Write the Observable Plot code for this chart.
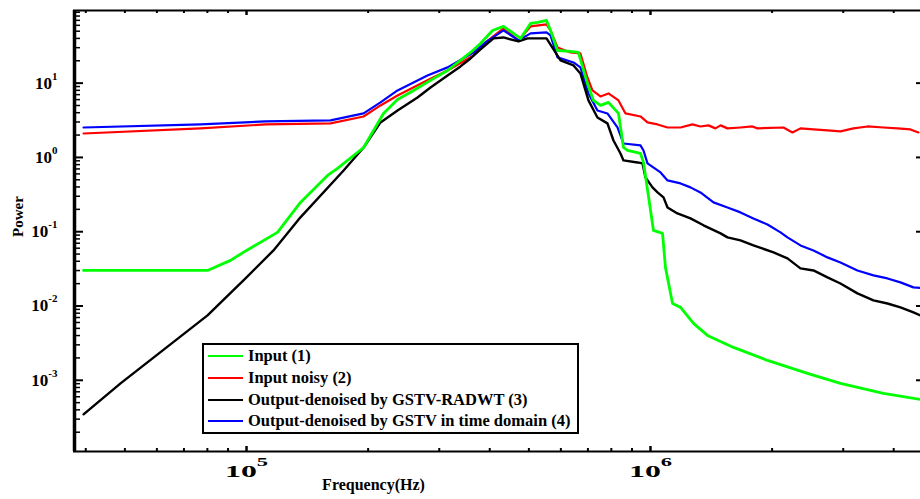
<!DOCTYPE html>
<html><head><meta charset="utf-8">
<script src="https://cdn.jsdelivr.net/npm/d3@7"></script>
<script src="https://cdn.jsdelivr.net/npm/@observablehq/plot@0.6"></script>
<style>
html,body{margin:0;padding:0;background:#fff;}
#wrap{position:relative;width:920px;height:499px;overflow:hidden;}
#legend{position:absolute;left:202px;top:343px;width:373px;height:87px;border:2px solid #000;background:#fff;font-family:"Liberation Serif",serif;font-weight:bold;font-size:16.5px;color:#000;}
.row{position:absolute;left:0;height:22px;display:flex;align-items:center;white-space:nowrap;}
.sw{display:inline-block;width:35px;height:2px;margin-left:4px;margin-right:5px;}
</style></head><body><div id="wrap"></div>
<script>
const seriesNames = ["Input (1)", "Input noisy (2)", "Output-denoised by GSTV-RADWT (3)", "Output-denoised by GSTV in time domain (4)"];
const seriesColors = ["#00ff00", "#ff0000", "#000000", "#0000ff"];
const xLabel = "Frequency(Hz)";
const yLabel = "Power";
const xTickValues = [1e5, 1e6];
const yTickValues = [1e-3, 1e-2, 1e-1, 1, 10];

// Input (1)
const inputF = [39500, 80070, 91290, 100000, 119300, 136000, 158700, 168000, 194900, 218300, 236500, 259100, 285400, 314500, 358500, 379500, 406400, 432600, 458000, 476700, 504700, 525200, 552900, 565600, 588700, 633900, 663100, 698100, 722400, 751800, 787000, 833300, 857400, 877200, 944600, 961000, 988600, 1017000, 1071000, 1089000, 1134000, 1187000, 1278000, 1384000, 1605000, 1948000, 2447000, 2953000, 3773000, 4659000];
const inputP = [0.0301, 0.0301, 0.0411, 0.0560, 0.0979, 0.248, 0.572, 0.711, 1.36, 3.91, 6.03, 7.97, 10.9, 14.8, 25.9, 34.2, 51.2, 58.0, 46.7, 40.0, 63.6, 65.6, 69.8, 51.2, 27.5, 26.7, 25.9, 9.91, 5.85, 5.01, 5.50, 3.91, 1.36, 1.24, 1.13, 0.85, 0.30, 0.104, 0.0949, 0.0331, 0.0108, 0.00958, 0.00583, 0.00402, 0.00277, 0.00185, 0.00124, 0.000908, 0.000666, 0.000553];

// Input noisy (2)
const noisyF = [39500, 76920, 111400, 161400, 194900, 214600, 236500, 280500, 314500, 364700, 390500, 432600, 471300, 504700, 552900, 565600, 588700, 633900, 670700, 698100, 718300, 751800, 787000, 833300, 867200, 944600, 983000, 1041000, 1102000, 1187000, 1270000, 1329000, 1392000, 1448000, 1491000, 1551000, 1670000, 1788000, 1840000, 2134000, 2246000, 2351000, 2532000, 2742000, 2953000, 3180000, 3444000, 3773000, 4087000, 4400000, 4605000];
const noisyP = [2.10, 2.46, 2.78, 2.87, 3.56, 5.01, 6.83, 10.9, 14.8, 23.6, 35.3, 54.5, 37.6, 58.0, 61.7, 51.2, 30.2, 25.9, 25.1, 11.9, 7.97, 6.62, 7.27, 5.85, 3.91, 3.56, 2.96, 2.78, 2.53, 2.53, 2.78, 2.61, 2.70, 2.46, 2.70, 2.46, 2.53, 2.61, 2.46, 2.53, 2.17, 2.46, 2.38, 2.31, 2.24, 2.46, 2.61, 2.53, 2.46, 2.38, 2.17];

// Output-denoised by GSTV-RADWT (3)
const radwtF = [39500, 48770, 80070, 100000, 116600, 136000, 173900, 194900, 214600, 236500, 265000, 285400, 314500, 338600, 358500, 379500, 408700, 432600, 471300, 496100, 552900, 598800, 644800, 670700, 702200, 739100, 782400, 809800, 842800, 857400, 928600, 955500, 971900, 1011500, 1041000, 1077000, 1102000, 1166000, 1256000, 1353000, 1491000, 1551000, 1670000, 1798000, 2016000, 2183000, 2351000, 2532000, 2742000, 2953000, 3253000, 3564000, 3860000, 4157000, 4476000, 4659000];
const radwtP = [0.000348, 0.000908, 0.00747, 0.0243, 0.0560, 0.156, 0.668, 1.36, 2.96, 4.29, 6.42, 8.75, 12.7, 16.8, 21.5, 28.4, 40.0, 41.2, 36.4, 40.0, 40.0, 20.2, 17.3, 13.5, 5.85, 3.45, 2.87, 1.69, 1.13, 0.911, 0.856, 0.830, 0.538, 0.395, 0.338, 0.290, 0.212, 0.176, 0.151, 0.122, 0.0949, 0.0838, 0.0764, 0.0654, 0.0527, 0.0437, 0.0321, 0.0301, 0.0243, 0.0201, 0.0148, 0.0119, 0.0108, 0.00958, 0.00820, 0.00747];

// Output-denoised by GSTV in time domain (4)
const gstvF = [39500, 76920, 111400, 161400, 194900, 214600, 236500, 280500, 314500, 364700, 390500, 432600, 471300, 504700, 552900, 565600, 588700, 644800, 670700, 702200, 739100, 782400, 828500, 857400, 944600, 961000, 983000, 1059000, 1102000, 1187000, 1256000, 1329000, 1432000, 1551000, 1670000, 1798000, 1948000, 2098000, 2183000, 2351000, 2532000, 2742000, 2953000, 3253000, 3564000, 3860000, 4157000, 4476000, 4659000];
const gstvP = [2.53, 2.78, 3.05, 3.15, 3.91, 5.50, 7.97, 12.7, 16.3, 25.9, 35.3, 51.2, 37.6, 46.7, 48.1, 43.9, 22.2, 19.0, 16.3, 7.27, 4.29, 3.91, 2.53, 1.54, 1.45, 1.24, 0.830, 0.628, 0.490, 0.447, 0.395, 0.338, 0.248, 0.212, 0.182, 0.151, 0.125, 0.0979, 0.0838, 0.0654, 0.0560, 0.0451, 0.0386, 0.0301, 0.0258, 0.0235, 0.0208, 0.0178, 0.0175];

const W = 920, H = 499, ML = 73, MT = 10, MR = 0, MB = 48;
const PW = W - ML - MR, PH = H - MT - MB;
const xDom = [37300, 4.66e6];
const yDom = [1.1e-4, 95];

const pairs = [[inputF, inputP], [noisyF, noisyP], [radwtF, radwtP], [gstvF, gstvP]];
const tables = pairs.map(([F, P], k) => F.map((f, i) => ({series: seriesNames[k], f, p: P[i]})));

const xMinor = [], yMinor = [];
for (const d of [1e4, 1e5, 1e6]) for (let m = 2; m <= 9; m++) { const v = m * d; if (v >= xDom[0] && v <= xDom[1]) xMinor.push(v); }
for (const d of [1e-4, 1e-3, 1e-2, 1e-1, 1, 10]) for (let m = 2; m <= 9; m++) { const v = m * d; if (v >= yDom[0] && v <= yDom[1]) yMinor.push(v); }

const fmt = d => `10^${Math.round(Math.log10(d))}`;
const order = [1, 3, 2, 0];
const widths = [2.8, 2.2, 2.4, 2.2];

const svg = Plot.plot({
  width: W, height: H,
  marginLeft: ML, marginTop: MT, marginRight: MR, marginBottom: MB,
  style: {fontFamily: "'Liberation Serif', serif", fontWeight: "bold", background: "#fff", color: "#000", overflow: "visible"},
  x: {type: "log", domain: xDom},
  y: {type: "log", domain: yDom},
  marks: [
    ...order.map(k => Plot.line(tables[k], {x: "f", y: "p", stroke: seriesColors[k], strokeWidth: widths[k], strokeLinejoin: "round"})),
    Plot.ruleX([xDom[0]], {strokeWidth: 3.5, dx: 1}),
    Plot.ruleY([yDom[1]], {strokeWidth: 2}),
    Plot.ruleY([yDom[0]], {strokeWidth: 2}),
    Plot.tickX(xMinor, {x: d => d, insetTop: PH - 3, strokeWidth: 2}),
    Plot.tickX(xTickValues, {x: d => d, insetTop: PH - 5, strokeWidth: 2.5}),
    Plot.tickX(xMinor, {x: d => d, insetBottom: PH - 3, strokeWidth: 2}),
    Plot.tickX(xTickValues, {x: d => d, insetBottom: PH - 5, strokeWidth: 2.5}),
    Plot.tickY(yMinor, {y: d => d, insetRight: PW - 7, strokeWidth: 1.5}),
    Plot.tickY(yTickValues, {y: d => d, insetRight: PW - 10, strokeWidth: 2}),
    Plot.tickY(yTickValues, {y: d => d, insetLeft: PW - 4, strokeWidth: 2}),
    Plot.axisY(yTickValues, {tickSize: 0, tickPadding: 16, tickFormat: fmt, label: null, fontSize: 17}),
    Plot.axisX(xTickValues, {tickSize: 0, tickPadding: 13, tickFormat: fmt, label: null, fontSize: 17}),
    Plot.text([yLabel], {text: d => d, frameAnchor: "left", rotate: -90, dx: -55, dy: 6, fontSize: 15, fontWeight: "bold"}),
    Plot.text([xLabel], {text: d => d, frameAnchor: "bottom-left", dx: 300, dy: 38, fontSize: 16, fontWeight: "bold", textAnchor: "middle"})
  ]
});

const ns = "http://www.w3.org/2000/svg";
function supers(sel, dy, size, len) {
  svg.querySelectorAll(sel).forEach(t => {
    const s = t.textContent; const e = s.split("^")[1];
    t.textContent = "";
    const a = document.createElementNS(ns, "tspan"); a.textContent = "10"; t.appendChild(a);
    const b = document.createElementNS(ns, "tspan"); b.textContent = e; b.setAttribute("dy", dy); b.setAttribute("font-size", size); t.appendChild(b);
    t.setAttribute("font-weight", "bold");
    if (len) { t.setAttribute("textLength", len); t.setAttribute("lengthAdjust", "spacingAndGlyphs"); }
  });
}
supers('g[aria-label="y-axis tick label"] text', -9, 11, null);
supers('g[aria-label="x-axis tick label"] text', -11, 12, 43);

const wrap = document.getElementById("wrap");
wrap.appendChild(svg);
const lg = document.createElement("div"); lg.id = "legend";
const tops = [0, 22, 44, 65];
seriesNames.forEach((n, k) => {
  const r = document.createElement("div"); r.className = "row"; r.style.top = tops[k] + "px";
  const sw = document.createElement("span"); sw.className = "sw"; sw.style.background = seriesColors[k];
  const tx = document.createElement("span"); tx.textContent = n;
  r.appendChild(sw); r.appendChild(tx); lg.appendChild(r);
});
wrap.appendChild(lg);
</script></body></html>
